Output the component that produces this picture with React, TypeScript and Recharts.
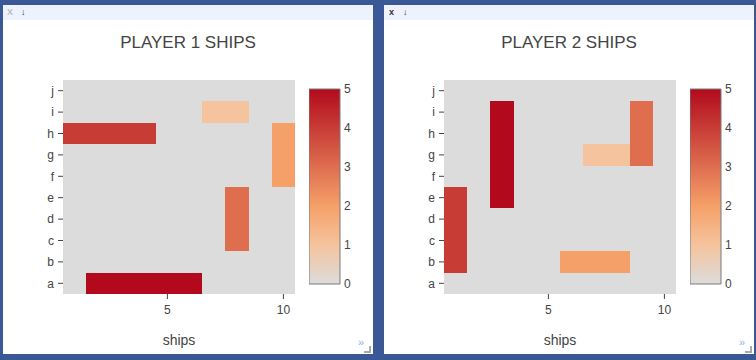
import React from 'react';
import { ComposedChart, XAxis, YAxis, ReferenceArea, Scatter } from 'recharts';

// ---- data ----
const rowLabels = ['a', 'b', 'c', 'd', 'e', 'f', 'g', 'h', 'i', 'j'];
const columnNumbers = [1, 2, 3, 4, 5, 6, 7, 8, 9, 10];
const xTicks = [5, 10];
const colorbarTicks = [0, 1, 2, 3, 4, 5];
const titles = ['PLAYER 1 SHIPS', 'PLAYER 2 SHIPS'];
const xAxisTitle = 'ships';

// rows a..j (bottom to top), columns 1..10
const player1Z: number[][] = [
  [0, 5, 5, 5, 5, 5, 0, 0, 0, 0], // a
  [0, 0, 0, 0, 0, 0, 0, 0, 0, 0], // b
  [0, 0, 0, 0, 0, 0, 0, 3, 0, 0], // c
  [0, 0, 0, 0, 0, 0, 0, 3, 0, 0], // d
  [0, 0, 0, 0, 0, 0, 0, 3, 0, 0], // e
  [0, 0, 0, 0, 0, 0, 0, 0, 0, 2], // f
  [0, 0, 0, 0, 0, 0, 0, 0, 0, 2], // g
  [4, 4, 4, 4, 0, 0, 0, 0, 0, 2], // h
  [0, 0, 0, 0, 0, 0, 1, 1, 0, 0], // i
  [0, 0, 0, 0, 0, 0, 0, 0, 0, 0], // j
];

const player2Z: number[][] = [
  [0, 0, 0, 0, 0, 0, 0, 0, 0, 0], // a
  [4, 0, 0, 0, 0, 2, 2, 2, 0, 0], // b
  [4, 0, 0, 0, 0, 0, 0, 0, 0, 0], // c
  [4, 0, 0, 0, 0, 0, 0, 0, 0, 0], // d
  [4, 0, 5, 0, 0, 0, 0, 0, 0, 0], // e
  [0, 0, 5, 0, 0, 0, 0, 0, 0, 0], // f
  [0, 0, 5, 0, 0, 0, 1, 1, 3, 0], // g
  [0, 0, 5, 0, 0, 0, 0, 0, 3, 0], // h
  [0, 0, 5, 0, 0, 0, 0, 0, 3, 0], // i
  [0, 0, 0, 0, 0, 0, 0, 0, 0, 0], // j
];

const zMin = 0;
const zMax = 5;

// Plotly "Reds" colorscale
const redsScale: [number, number[]][] = [
  [0, [220, 220, 220]],
  [0.2, [245, 195, 157]],
  [0.4, [245, 160, 105]],
  [1, [178, 10, 28]],
];

function colorFor(v: number): string {
  const t = Math.max(0, Math.min(1, (v - zMin) / (zMax - zMin)));
  for (let i = 1; i < redsScale.length; i++) {
    const [p0, c0] = redsScale[i - 1];
    const [p1, c1] = redsScale[i];
    if (t <= p1) {
      const f = (t - p0) / (p1 - p0);
      const c = c0.map((a, k) => Math.round(a + (c1[k] - a) * f));
      return `rgb(${c[0]},${c[1]},${c[2]})`;
    }
  }
  const c = redsScale[redsScale.length - 1][1];
  return `rgb(${c[0]},${c[1]},${c[2]})`;
}

const FONT = '"Liberation Sans", Arial, sans-serif';
const TEXT = '#444';

function Heatmap({ z, title, idx }: { z: number[][]; title: string; idx: number }) {
  const cells: { x: number; y: number; z: number }[] = [];
  z.forEach((row, r) =>
    row.forEach((v, c) => cells.push({ x: columnNumbers[c], y: r + 1, z: v }))
  );
  const panelLeft = idx === 0 ? 3 : 384;
  return (
    <div
      style={{
        position: 'absolute',
        left: panelLeft,
        top: 5,
        width: 370,
        height: 349,
        background: '#fff',
        overflow: 'hidden',
      }}
    >
      <div
        style={{
          position: 'absolute',
          left: 0,
          top: 0,
          width: 370,
          height: 15,
          background: '#edf2fd',
        }}
      >
        <span
          style={{
            position: 'absolute',
            left: idx === 0 ? 4 : 5,
            top: 1,
            fontSize: 9,
            lineHeight: '12px',
            fontWeight: idx === 0 ? 400 : 700,
            color: idx === 0 ? '#aaa' : '#333',
            fontFamily: FONT,
          }}
        >
          {idx === 0 ? 'X' : 'x'}
        </span>
        <span
          style={{
            position: 'absolute',
            left: idx === 0 ? 18 : 19,
            top: 1,
            fontSize: 9,
            lineHeight: '12px',
            color: '#333',
            fontFamily: FONT,
          }}
        >
          ↓
        </span>
      </div>
      <div
        style={{
          position: 'absolute',
          left: 0,
          top: 28,
          width: 370,
          textAlign: 'center',
          fontSize: 17,
          lineHeight: '20px',
          color: TEXT,
          fontFamily: FONT,
        }}
      >
        {title}
      </div>
      <div style={{ position: 'absolute', left: 0, top: 0 }}>
        <ComposedChart
          width={370}
          height={349}
          margin={{ top: 75, right: 78, bottom: 0, left: 0 }}
          style={{ fontFamily: FONT }}
        >
          <XAxis
            type="number"
            dataKey="x"
            domain={[0.5, 10.5]}
            ticks={xTicks}
            interval={0}
            allowDataOverflow
            axisLine={false}
            tickSize={5}
            tickMargin={6}
            tickLine={{ stroke: TEXT }}
            tick={{ fill: TEXT, fontSize: 12 }}
            height={60}
            label={{
              value: xAxisTitle,
              position: 'insideBottom',
              offset: 9,
              fill: TEXT,
              fontSize: 14,
            }}
          />
          <YAxis
            type="number"
            dataKey="y"
            domain={[0.5, 10.5]}
            ticks={columnNumbers}
            interval={0}
            allowDataOverflow
            tickFormatter={(v: number) => rowLabels[v - 1]}
            axisLine={false}
            tickSize={5}
            tickMargin={4}
            tickLine={{ stroke: TEXT }}
            tick={{ fill: TEXT, fontSize: 12 }}
            width={60}
          />
          {cells.map((c, i) => (
            <ReferenceArea
              key={i}
              x1={c.x - 0.5}
              x2={c.x + 0.5}
              y1={c.y - 0.5}
              y2={c.y + 0.5}
              fill={colorFor(c.z)}
              fillOpacity={1}
              stroke="none"
              shapeRendering="crispEdges"
              ifOverflow="visible"
            />
          ))}
          <Scatter data={cells} isAnimationActive={false} shape={() => <g />} />
        </ComposedChart>
      </div>
      <div style={{ position: 'absolute', left: 306, top: 74 }}>
        <ComposedChart
          width={60}
          height={215}
          margin={{ top: 10, right: 0, bottom: 10, left: 0 }}
          style={{ fontFamily: FONT }}
        >
          <XAxis type="number" dataKey="x" domain={[0, 1]} hide />
          <YAxis
            type="number"
            dataKey="y"
            orientation="right"
            domain={[zMin, zMax]}
            ticks={colorbarTicks}
            interval={0}
            axisLine={false}
            tickLine={false}
            tickSize={0}
            tickMargin={4}
            tick={{ fill: TEXT, fontSize: 12 }}
            width={29}
          />
          <ReferenceArea
            x1={0}
            x2={1}
            y1={zMin}
            y2={zMax}
            fill="url(#redsGradient)"
            fillOpacity={1}
            stroke="#7a7a7a"
            strokeWidth={1}
            ifOverflow="visible"
          />
          <Scatter
            data={[{ x: 0, y: zMin }, { x: 1, y: zMax }]}
            isAnimationActive={false}
            shape={() => <g />}
          />
        </ComposedChart>
      </div>
      <span
        style={{
          position: 'absolute',
          left: 355,
          top: 330,
          fontSize: 11,
          lineHeight: '14px',
          color: '#8fb0f2',
          fontFamily: FONT,
        }}
      >
        »
      </span>
      <div
        style={{
          position: 'absolute',
          left: 361,
          top: 341,
          width: 5,
          height: 5,
          borderRight: '2px solid #aaa',
          borderBottom: '2px solid #aaa',
        }}
      />
    </div>
  );
}

export default function App() {
  return (
    <div
      style={{
        position: 'absolute',
        left: 0,
        top: 0,
        width: 756,
        height: 360,
        background: '#3a5896',
        overflow: 'hidden',
      }}
    >
      <svg width={0} height={0} style={{ position: 'absolute' }}>
        <defs>
          <linearGradient id="redsGradient" x1="0" y1="1" x2="0" y2="0">
            {redsScale.map(([p, c]) => (
              <stop
                key={p}
                offset={`${p * 100}%`}
                stopColor={`rgb(${c[0]},${c[1]},${c[2]})`}
              />
            ))}
          </linearGradient>
        </defs>
      </svg>
      <Heatmap z={player1Z} title={titles[0]} idx={0} />
      <Heatmap z={player2Z} title={titles[1]} idx={1} />
    </div>
  );
}
